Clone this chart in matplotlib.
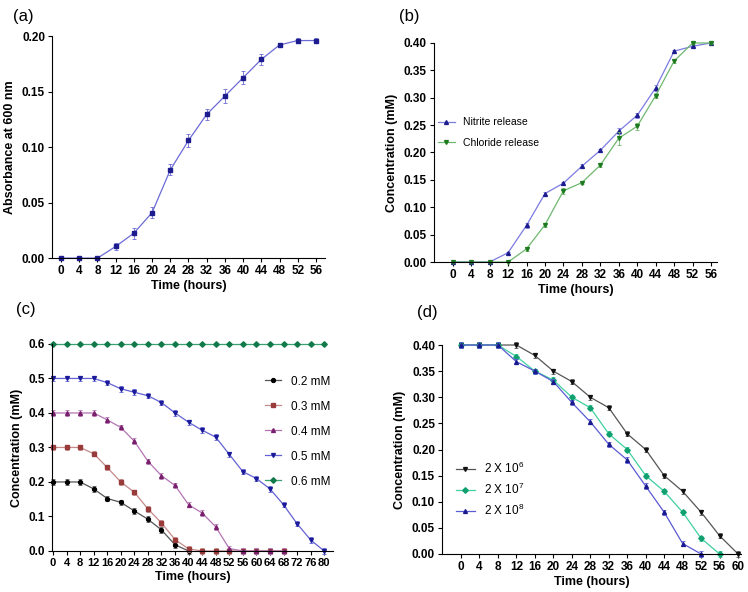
import numpy as np
import matplotlib
matplotlib.use("Agg")
from matplotlib import pyplot as plt

plt.rcParams['font.family'] = ['Liberation Sans', 'DejaVu Sans']
plt.rcParams['mathtext.fontset'] = 'custom'
plt.rcParams['mathtext.rm'] = 'Liberation Sans'

# (a) growth
time_a = list(range(0, 57, 4))
absorb = [0, 0, 0, 0.0105, 0.0225, 0.041, 0.0795, 0.106, 0.1295, 0.146, 0.1625, 0.179, 0.192, 0.196, 0.196]
absorb_err = [0, 0, 0, 0.003, 0.005, 0.005, 0.005, 0.006, 0.005, 0.006, 0.006, 0.005, 0.002, 0.002, 0.002]

# (b) release
time_b = list(range(0, 57, 4))
nitrite = [0, 0, 0, 0.017, 0.067, 0.125, 0.144, 0.175, 0.204, 0.239, 0.268, 0.318, 0.385, 0.394, 0.400]
nitrite_err = [0, 0, 0, 0.002, 0.004, 0.003, 0.003, 0.004, 0.003, 0.005, 0.005, 0.005, 0.003, 0.002, 0.002]
chloride = [0, 0, 0, 0, 0.024, 0.068, 0.130, 0.145, 0.177, 0.226, 0.248, 0.304, 0.367, 0.400, 0.400]
chloride_err = [0, 0, 0, 0, 0.003, 0.004, 0.005, 0.003, 0.004, 0.012, 0.006, 0.004, 0.004, 0.002, 0.002]

# (c) initial concentrations
time_c = list(range(0, 81, 4))
c02 = [0.2, 0.2, 0.2, 0.18, 0.152, 0.141, 0.116, 0.092, 0.061, 0.018, 0.0]
c03 = [0.3, 0.3, 0.3, 0.282, 0.242, 0.2, 0.17, 0.122, 0.081, 0.033, 0.006, 0, 0, 0, 0, 0, 0, 0]
c04 = [0.4, 0.4, 0.4, 0.4, 0.38, 0.358, 0.318, 0.26, 0.218, 0.19, 0.134, 0.11, 0.07, 0.007, 0, 0, 0, 0]
c05 = [0.5, 0.5, 0.5, 0.5, 0.488, 0.47, 0.46, 0.45, 0.43, 0.4, 0.373, 0.35, 0.33, 0.28, 0.23, 0.21, 0.18, 0.134, 0.079, 0.032, 0.0]
c06 = [0.6] * 21
err_c = 0.008
labels_c = ['0.2 mM', '0.3 mM', '0.4 mM', '0.5 mM', '0.6 mM']

# (d) inoculum size
time_d = list(range(0, 61, 4))
d6 = [0.40, 0.40, 0.40, 0.40, 0.38, 0.35, 0.33, 0.30, 0.28, 0.23, 0.20, 0.15, 0.12, 0.08, 0.035, 0.0]
d7 = [0.40, 0.40, 0.40, 0.378, 0.35, 0.333, 0.30, 0.28, 0.23, 0.20, 0.15, 0.12, 0.08, 0.03, 0.0]
d8 = [0.40, 0.40, 0.40, 0.368, 0.35, 0.33, 0.29, 0.253, 0.21, 0.18, 0.13, 0.08, 0.02, 0.0]
err_d = 0.005
labels_d = [r'2 X 10$^{6}$', r'2 X 10$^{7}$', r'2 X 10$^{8}$']


def style_axes(ax, xticks, ylim, yticks, yfmt, ylabel, tsize=8.5):
    ax.spines['top'].set_visible(False)
    ax.spines['right'].set_visible(False)
    ax.set_ylim(*ylim)
    ax.set_xticks(xticks)
    ax.set_yticks(yticks)
    ax.set_yticklabels([yfmt.format(v) for v in yticks])
    for lab in ax.get_xticklabels():
        lab.set_fontweight('bold')
        lab.set_fontsize(tsize)
    for lab in ax.get_yticklabels():
        lab.set_fontweight('bold')
        lab.set_fontsize(8.5)
    ax.tick_params(direction='out', length=3, width=0.8, pad=2)
    ax.set_xlabel('Time (hours)', fontweight='bold', fontsize=9, labelpad=2)
    ax.set_ylabel(ylabel, fontweight='bold', fontsize=9, labelpad=4)


def series(ax, x, y, err, line, mark, marker, label=None):
    n = len(y)
    ax.errorbar(x[:n], y, yerr=err, fmt='none', ecolor=line, elinewidth=0.6,
                capsize=1.5, capthick=0.6, clip_on=False)
    ax.plot(x[:n], y, color=line, lw=0.9, marker=marker, ms=2.8,
            mfc=mark, mec=mark, label=label, clip_on=False)


fig = plt.figure(figsize=(7.48, 5.92), dpi=100)

# (a)
ax = fig.add_axes([0.0695, 0.564, 0.365, 0.375])
series(ax, time_a, absorb, absorb_err, '#6b6bd6', '#1c1c8e', 's')
ax.set_xlim(-2, 58)
style_axes(ax, time_a, (0, 0.2), [0, 0.05, 0.10, 0.15, 0.20], '{:.2f}', 'Absorbance at 600 nm')
fig.text(0.017, 0.985, '(a)', fontsize=12, va='top')

# (b)
ax = fig.add_axes([0.580, 0.5574, 0.3786, 0.370])
series(ax, time_b, nitrite, nitrite_err, '#7b7be0', '#1c1c8e', '^', 'Nitrite release')
series(ax, time_b, chloride, chloride_err, '#6fb86f', '#1e7a1e', 'v', 'Chloride release')
ax.set_xlim(-4.1, 57.3)
style_axes(ax, time_b, (0, 0.4), [0, 0.05, 0.10, 0.15, 0.20, 0.25, 0.30, 0.35, 0.40], '{:.2f}', 'Concentration (mM)')
ax.legend(loc='upper left', bbox_to_anchor=(0.0, 0.68), frameon=False, fontsize=7.5,
          handlelength=1.6, labelspacing=1.0, borderaxespad=0)
fig.text(0.533, 0.985, '(b)', fontsize=12, va='top')

# (c)
ax = fig.add_axes([0.0695, 0.0693, 0.3757, 0.3497])
series(ax, time_c, c02, err_c, '#555555', '#000000', 'o', labels_c[0])
series(ax, time_c, c03, err_c, '#c48a8a', '#9a3b3b', 's', labels_c[1])
series(ax, time_c, c04, err_c, '#b474b4', '#7a1f6e', '^', labels_c[2])
series(ax, time_c, c05, err_c, '#6262d2', '#1a1a9a', 'v', labels_c[3])
series(ax, time_c, c06, 0, '#3aa070', '#127a4a', 'D', labels_c[4])
ax.set_xlim(-0.3, 82.6)
style_axes(ax, time_c, (0, 0.6), [0, 0.1, 0.2, 0.3, 0.4, 0.5, 0.6], '{:.1f}', 'Concentration (mM)', 8)
ax.legend(loc='upper left', bbox_to_anchor=(0.74, 0.87), frameon=False, fontsize=8.5,
          handlelength=1.4, labelspacing=1.1, borderaxespad=0)
fig.text(0.022, 0.49, '(c)', fontsize=12, va='top')

# (d)
ax = fig.add_axes([0.591, 0.0642, 0.40, 0.353])
series(ax, time_d, d6, err_d, '#555555', '#111111', 'v', labels_d[0])
series(ax, time_d, d7, err_d, '#3fd0a0', '#10a070', 'D', labels_d[1])
series(ax, time_d, d8, err_d, '#5a5ad4', '#1a1a90', '^', labels_d[2])
ax.set_xlim(-4.1, 60.7)
style_axes(ax, time_d, (0, 0.4), [0, 0.05, 0.10, 0.15, 0.20, 0.25, 0.30, 0.35, 0.40], '{:.2f}', 'Concentration (mM)')
ax.legend(loc='upper left', bbox_to_anchor=(0.03, 0.47), frameon=False, fontsize=8.5,
          handlelength=1.6, labelspacing=0.5, borderaxespad=0)
fig.text(0.557, 0.485, '(d)', fontsize=12, va='top')

fig.savefig('out.png', dpi=100)
